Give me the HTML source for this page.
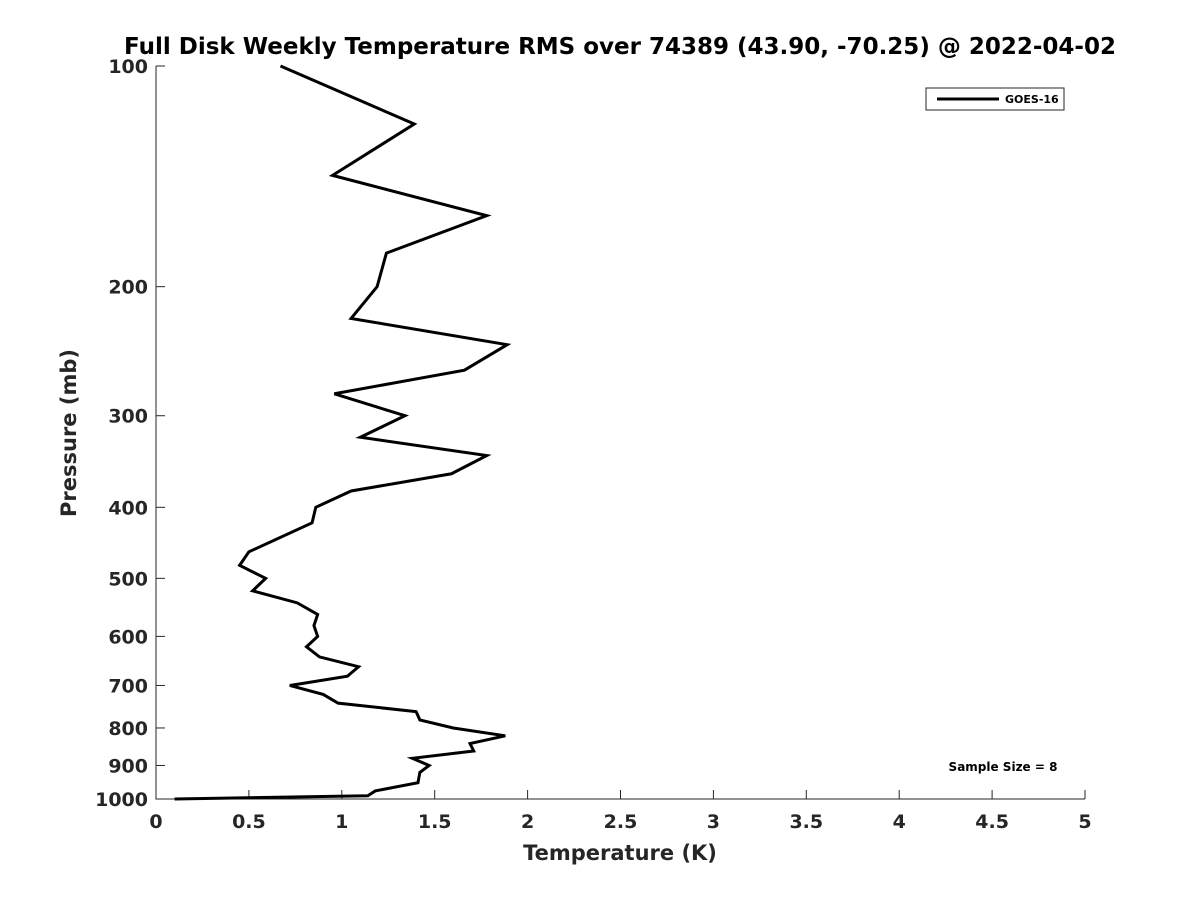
<!DOCTYPE html>
<html><head><meta charset="utf-8"><style>
body{margin:0;background:#fff;}
svg{display:block;font-family:"DejaVu Sans","Liberation Sans",sans-serif;font-weight:bold;}
</style></head><body>
<svg id="chart" width="1200" height="900"></svg>
<script>
const pressures=[100,120,141,160,180,200,221,240,260,280,300,321,340,360,380,400,420,460,480,500,520,540,560,580,600,620,640,660,680,700,720,740,760,780,800,820,840,860,880,900,920,950,975,990,1000];
const temps=[0.67,1.39,0.95,1.78,1.24,1.19,1.05,1.89,1.66,0.96,1.34,1.10,1.78,1.59,1.05,0.86,0.84,0.50,0.45,0.59,0.52,0.76,0.87,0.85,0.87,0.81,0.88,1.09,1.03,0.72,0.90,0.98,1.40,1.42,1.60,1.88,1.69,1.71,1.38,1.47,1.42,1.41,1.18,1.14,0.10];
const xTicks=[0,0.5,1,1.5,2,2.5,3,3.5,4,4.5,5];
const xTickLabels=["0","0.5","1","1.5","2","2.5","3","3.5","4","4.5","5"];
const yTicks=[100,200,300,400,500,600,700,800,900,1000];
const yTickLabels=["100","200","300","400","500","600","700","800","900","1000"];
const L=156,R=1085,T=66,B=799;
const xs=v=>L+(v-0)/(5-0)*(R-L);
const ys=p=>T+(Math.log10(p)-2)/1*(B-T);
const svg=document.getElementById('chart');const NS='http://www.w3.org/2000/svg';
function mk(tag,attrs,text){const e=document.createElementNS(NS,tag);for(const k in attrs)e.setAttribute(k,attrs[k]);if(text!==undefined)e.textContent=text;svg.appendChild(e);return e;}
let e;
e=mk('text',{x:620,y:54,'text-anchor':'middle','font-size':23},'Full Disk Weekly Temperature RMS over 74389 (43.90, -70.25) @ 2022-04-02');


e=mk('path',{d:`M${L},${T}V${B}H${R}`,stroke:'#262626',fill:'none','stroke-width':1});


xTicks.forEach((v,i)=>{
 e=mk('line',{x1:xs(v),x2:xs(v),y1:B,y2:B-9,stroke:'#262626'});
 
 
 e=mk('text',{x:xs(v),y:B+29,'text-anchor':'middle','font-size':19,fill:'#262626'},xTickLabels[i]);
 
 
});
yTicks.forEach((p,i)=>{
 e=mk('line',{x1:L,x2:L+9,y1:ys(p),y2:ys(p),stroke:'#262626'});
 
 
 e=mk('text',{x:L-8,y:ys(p)+7,'text-anchor':'end','font-size':19,fill:'#262626'},yTickLabels[i]);
 
 
});
e=mk('text',{x:620,y:860,'text-anchor':'middle','font-size':21,fill:'#262626'},'Temperature (K)');


e=mk('text',{x:0,y:0,'text-anchor':'middle','font-size':21,fill:'#262626',transform:'translate(76,433) rotate(-90)'},'Pressure (mb)');


e=mk('polyline',{points:pressures.map((p,i)=>xs(temps[i])+','+ys(p)).join(' '),fill:'none',stroke:'#000','stroke-width':3,'stroke-linejoin':'miter'});


e=mk('rect',{x:926,y:88,width:138,height:22,fill:'#fff',stroke:'#262626'});


e=mk('line',{x1:937,x2:999,y1:99,y2:99,stroke:'#000','stroke-width':3});


e=mk('text',{x:1005,y:103,'font-size':11},'GOES-16');


e=mk('text',{x:1003,y:771,'text-anchor':'middle','font-size':12},'Sample Size = 8');


</script>
</body></html>
